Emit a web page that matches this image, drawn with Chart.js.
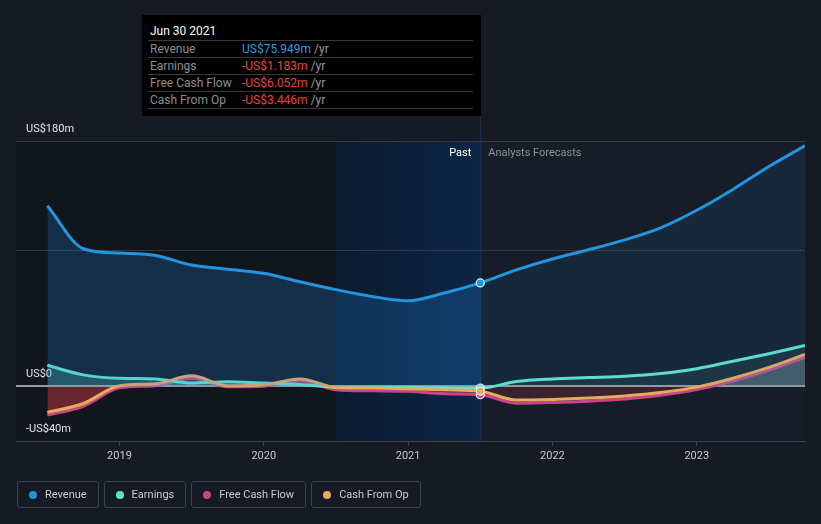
<!DOCTYPE html>
<html><head><meta charset="utf-8">
<script src="https://cdn.jsdelivr.net/npm/chart.js@4.4.0/dist/chart.umd.min.js"></script>
<style>
html,body{margin:0;padding:0;background:#151a23;width:821px;height:524px;overflow:hidden;font-family:Roboto,"Noto Sans",sans-serif;}
#wrap{position:relative;width:821px;height:524px;}
#c{position:absolute;left:0;top:0;}
#tip{position:absolute;left:142px;top:15px;width:339px;height:101px;background:#000;font-size:12px;}
#tip .hd{position:absolute;left:8px;top:8px;color:#fff;font-size:12px;line-height:16px;}
#tip .sep{position:absolute;left:6px;width:325px;height:1px;background:#3a3a3a;}
#tip .row{position:absolute;left:8px;height:16px;line-height:16px;width:320px;}
#tip .lb{position:absolute;left:0;color:#8e8e8e;}
#tip .vl{position:absolute;left:92px;white-space:nowrap;}
#tip .yr{color:#9a9a9a;}
#legend{position:absolute;left:17px;top:481px;height:27px;display:flex;gap:5px;}
.lg{box-sizing:border-box;height:27px;border:1px solid #3c414b;border-radius:3px;display:flex;align-items:center;padding:0 11px 0 11px;color:#c9ccd1;font-size:11px;}
.lg .dot{width:8px;height:8px;border-radius:50%;margin-right:8px;}
</style></head>
<body><div id="wrap">
<canvas id="c" width="821" height="524"></canvas>
<div id="tip"></div>
<div id="legend"></div>
</div>
<script>
// ---- data (US$ millions, x = fractional year) ----
const pastYears = [2018.5,2018.75,2019.0,2019.25,2019.5,2019.75,2020.0,2020.25,2020.5,2020.75,2021.0,2021.25,2021.5];
const forecastYears = [2021.75,2022.0,2022.25,2022.5,2022.75,2023.0,2023.25,2023.5,2023.75];
const revenue = [132.5,101,97.8,96.1,89,86,83,76.8,71,66,62.8,68.5,75.949, 85.5,93.5,100.2,107.5,116.3,129.2,144.5,161.3,176.5];
const earnings = [15.5,8.5,6,5.5,2.5,3.5,2.5,1.5,-0.5,-0.8,-0.8,-1.0,-1.183, 3.6,5.5,6.5,7.5,9.5,13,18.5,24,30];
const freeCashFlow = [-21,-14.5,-1,0.5,6,-0.3,0.2,4,-2.4,-3.2,-3.6,-5.3,-6.052, -12.3,-11.8,-10.8,-9.2,-6.5,-2.3,4,12,21.3];
const cashFromOp = [-19,-12.5,0.5,2,7.8,0.5,1.2,5.5,-0.7,-1.2,-1.7,-2.5,-3.446, -10,-9.5,-8.5,-7,-4.5,-0.5,6,14,23.5];
const seriesNames = ['Revenue','Earnings','Free Cash Flow','Cash From Op'];
const seriesColors = ['#2394df','#62e3cc','#c8448a','#e9a95a'];
const xTicks = [2019,2020,2021,2022,2023];
const yTickValues = [-40,0,100,180];
const yTickLabels = ['-US$40m','US$0','','US$180m'];
const highlightStart = 2020.5, pastEnd = 2021.5;
const xMin = 2018.283, xMax = 2023.75;
const tipDate = 'Jun 30 2021';
const tipValues = ['US$75.949m','-US$1.183m','-US$6.052m','-US$3.446m'];
const tipColors = ['#2d9be6','#e8423f','#e8423f','#e8423f'];

const allYears = pastYears.concat(forecastYears);
const pts = arr => allYears.map((x,i)=>({x, y:arr[i]}));

// tooltip (HTML)
const tip = document.getElementById('tip');
let h = `<div class="hd">${tipDate}</div>`;
for (let i=0;i<5;i++) h += `<div class="sep" style="top:${25+17*i}px"></div>`;
seriesNames.forEach((n,i)=>{
  h += `<div class="row" style="top:${26+17*i}px"><span class="lb">${n}</span><span class="vl"><span style="color:${tipColors[i]}">${tipValues[i]}</span> <span class="yr">/yr</span></span></div>`;
});
tip.innerHTML = h;
// legend (HTML)
document.getElementById('legend').innerHTML = seriesNames.map((n,i)=>`<div class="lg"><span class="dot" style="background:${seriesColors[i]}"></span>${n}</div>`).join('');

const ptRadius = ctx => (ctx.raw && ctx.raw.x === pastEnd) ? 4 : 0;

const bgPlugin = {
  id:'bg',
  beforeDraw(chart){
    const {ctx, chartArea:a, scales:{x}} = chart;
    const hs = x.getPixelForValue(highlightStart), pe = x.getPixelForValue(pastEnd);
    ctx.save();
    ctx.fillStyle = '#11151c';
    ctx.fillRect(a.left, a.top, hs-a.left, a.bottom-a.top);
    const g = ctx.createLinearGradient(hs,0,pe,0);
    g.addColorStop(0,'#0b1a30'); g.addColorStop(1,'#0d2547');
    ctx.fillStyle = g;
    ctx.fillRect(hs, a.top, pe-hs, a.bottom-a.top);
    ctx.fillStyle = '#161d28';
    ctx.fillRect(pe, a.top, a.right-pe, a.bottom-a.top);
    ctx.restore();
  },
  beforeDatasetsDraw(chart){
    const {ctx, chartArea:a, scales:{x}} = chart;
    const pe = x.getPixelForValue(pastEnd);
    ctx.save();
    ctx.strokeStyle = '#1d3553'; ctx.lineWidth = 1;
    ctx.beginPath(); ctx.moveTo(pe+0.5, 116); ctx.lineTo(pe+0.5, a.bottom); ctx.stroke();
    ctx.font = '11px Roboto, "Noto Sans", sans-serif';
    ctx.textBaseline = 'middle';
    ctx.fillStyle = '#ffffff'; ctx.textAlign = 'right';
    ctx.fillText('Past', pe-9, a.top+12);
    ctx.fillStyle = '#8b9099'; ctx.textAlign = 'left';
    ctx.fillText('Analysts Forecasts', pe+8, a.top+12);
    ctx.restore();
  }
};

const mk = (label, arr, color, order) => ({
  label, data: pts(arr), borderColor: color, borderWidth: 3, order,
  fill: false, cubicInterpolationMode:'monotone',
  pointRadius: ptRadius, pointBackgroundColor: color, pointBorderColor:'#e8f1ff', pointBorderWidth:1.2
});

const chart = new Chart(document.getElementById('c'), {
  type:'line',
  data:{ datasets:[
    mk(seriesNames[0], revenue, seriesColors[0], 0),
    mk(seriesNames[1], earnings, seriesColors[1], 2),
    mk(seriesNames[2], freeCashFlow, seriesColors[2], 3),
    mk(seriesNames[3], cashFromOp, seriesColors[3], 1)
  ]},
  options:{
    responsive:false, animation:false, events:[],
    layout:{padding:{left:16,right:16,top:141,bottom:0}},
    plugins:{legend:{display:false}, tooltip:{enabled:false}},
    scales:{
      x:{ type:'linear', min:xMin, max:xMax,
        afterBuildTicks: s => { s.ticks = xTicks.map(v=>({value:v})); },
        afterFit: s => { s.height = 83; },
        border:{display:true, color:'#3c414b', width:1},
        grid:{drawOnChartArea:false, drawTicks:true, tickLength:5, color:'#3c414b'},
        ticks:{color:'#c8cbd0', font:{size:11, family:'Roboto'}, padding:4, maxRotation:0, callback: v => String(v)}
      },
      y:{ min:-40, max:180,
        afterBuildTicks: s => { s.ticks = yTickValues.map(v=>({value:v})); },
        afterFit: s => { s.width = 0; },
        border:{display:false},
        grid:{drawTicks:false, color: c => c.tick && c.tick.value===0 ? '#9a9a9a' : '#323843', lineWidth: c => c.tick && c.tick.value===0 ? 2 : 1},
        ticks:{mirror:true, padding:10, labelOffset:-12, color:'#e4e6ea', font:{size:11, family:'Roboto'},
          callback: v => { const i = yTickValues.indexOf(v); return i>=0 ? yTickLabels[i] : ''; }}
      }
    }
  },
  plugins:[bgPlugin]
});

// horizontal gradient fills: stronger in the past, weaker in forecasts
const xs = chart.scales.x;
const split = (xs.getPixelForValue(pastEnd) - xs.left) / (xs.right - xs.left);
function hg(c1, c2){
  const g = chart.ctx.createLinearGradient(xs.left,0,xs.right,0);
  g.addColorStop(0,c1); g.addColorStop(split,c1); g.addColorStop(Math.min(1,split+0.001),c2); g.addColorStop(1,c2);
  return g;
}
const ds = chart.data.datasets;
ds[0].fill = {target:'origin', above: hg('rgba(33,150,243,0.2)','rgba(33,150,243,0.09)'), below:'rgba(0,0,0,0)'};
ds[1].fill = {target:'origin', above: hg('rgba(98,227,204,0.25)','rgba(98,227,204,0.08)'), below:'rgba(0,0,0,0)'};
ds[2].fill = {target:'origin', above: hg('rgba(150,120,140,0.35)','rgba(140,140,150,0.4)'), below: hg('rgba(190,55,65,0.5)','rgba(190,55,70,0.2)')};
chart.update('none');
</script>
</body></html>
